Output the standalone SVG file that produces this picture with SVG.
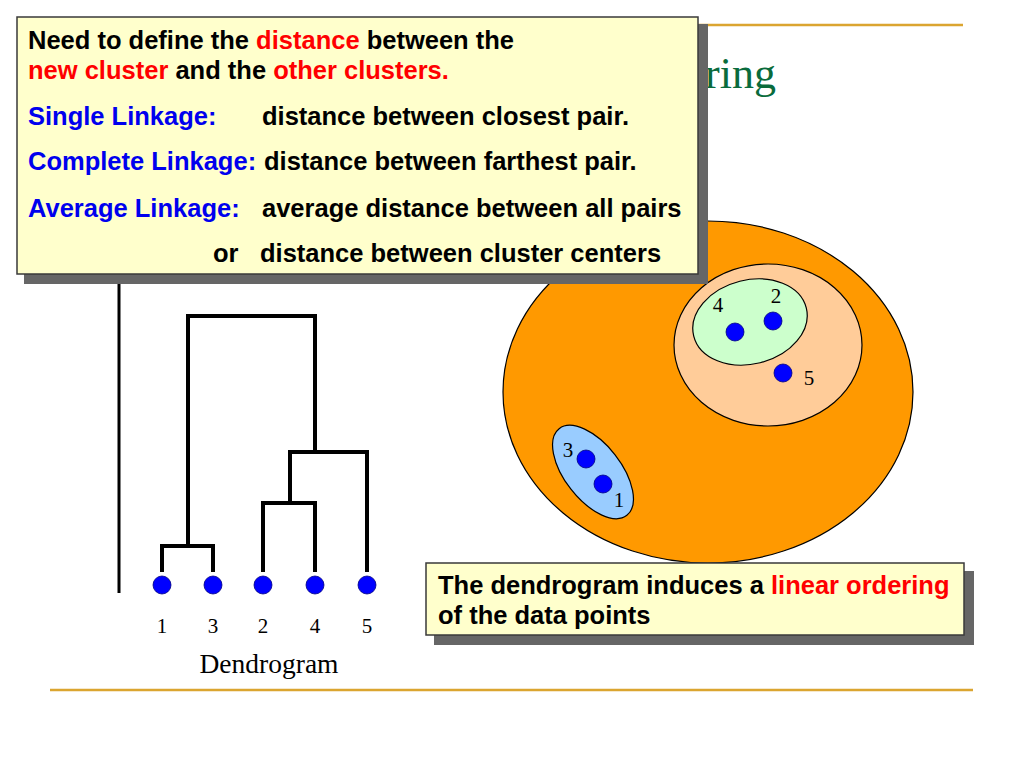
<svg xmlns="http://www.w3.org/2000/svg" width="1024" height="768" viewBox="0 0 1024 768">
<style>
.gold{stroke:#DBA530;stroke-width:2.5;fill:none}
.box{fill:#FFFFCC;stroke:#3a3a3a;stroke-width:1.5}
.shadow{fill:#666666}
.bt{font-family:"Liberation Sans",Arial,sans-serif;font-weight:bold;font-size:25.5px;fill:#000}
.red{fill:#FF0000}
.blue{fill:#0000EE}
.tree{stroke:#000;stroke-width:4;fill:none;stroke-linecap:square}
.dot{fill:#0000FF;stroke:#000080;stroke-width:0.8}
.num{font-family:"Liberation Serif","Times New Roman",serif;font-size:21px;fill:#000}
.cl{stroke:#000;stroke-width:1.2}
</style>
<rect width="1024" height="768" fill="#FFFFFF"/>
<g id="rules">
<line class="gold" x1="50" y1="25" x2="963" y2="25"/>
<line class="gold" x1="50" y1="690" x2="973" y2="690"/>
</g>
<text id="title" x="776" y="88" text-anchor="end" font-family="'Liberation Serif','Times New Roman',serif" font-size="44" fill="#0A6B3C">ring</text>
<g id="clusters">
<ellipse class="cl" cx="708" cy="392" rx="205" ry="171" fill="#FF9900"/>
<ellipse class="cl" cx="768" cy="345" rx="94" ry="81" fill="#FFCC99"/>
<ellipse class="cl" cx="750" cy="322" rx="58" ry="42" transform="rotate(-14 750 322)" fill="#CCFFCC"/>
<ellipse class="cl" cx="593" cy="472" rx="55" ry="28" transform="rotate(52 593 472)" fill="#99CCFF"/>
<circle class="dot" cx="735" cy="332" r="9"/>
<circle class="dot" cx="773" cy="321" r="9"/>
<circle class="dot" cx="783" cy="373" r="9"/>
<circle class="dot" cx="586" cy="459" r="9"/>
<circle class="dot" cx="603" cy="484" r="9"/>
<text class="num" x="718" y="312" text-anchor="middle">4</text>
<text class="num" x="776" y="303" text-anchor="middle">2</text>
<text class="num" x="809" y="385" text-anchor="middle">5</text>
<text class="num" x="568" y="457" text-anchor="middle">3</text>
<text class="num" x="619" y="507" text-anchor="middle">1</text>
</g>
<g id="dendrogram">
<line x1="119" y1="280" x2="119" y2="593" stroke="#000" stroke-width="3"/>
<g id="connectors">
<path class="tree" d="M162,570 V546 H213 V570"/>
<path class="tree" d="M263,570 V503 H315 V570"/>
<path class="tree" d="M290,503 V452 H367 V570"/>
<path class="tree" d="M188,546 V316 H315 V452"/>
</g>
<g id="leaves">
<circle class="dot" cx="162" cy="585" r="9"/>
<circle class="dot" cx="213" cy="585" r="9"/>
<circle class="dot" cx="263" cy="585" r="9"/>
<circle class="dot" cx="315" cy="585" r="9"/>
<circle class="dot" cx="367" cy="585" r="9"/>
<text class="num" x="162" y="633" text-anchor="middle">1</text>
<text class="num" x="213" y="633" text-anchor="middle">3</text>
<text class="num" x="263" y="633" text-anchor="middle">2</text>
<text class="num" x="315" y="633" text-anchor="middle">4</text>
<text class="num" x="367" y="633" text-anchor="middle">5</text>
</g>
<text x="269" y="673" text-anchor="middle" font-family="'Liberation Serif','Times New Roman',serif" font-size="27.5" fill="#000">Dendrogram</text>
</g>
<g id="linkage-box">
<rect class="shadow" x="24" y="24" width="684" height="260"/>
<rect class="box" x="17" y="17" width="681" height="257"/>
<text class="bt" x="28" y="49">Need to define the <tspan class="red">distance</tspan> between the</text>
<text class="bt" x="28" y="79"><tspan class="red">new cluster</tspan> and the <tspan class="red">other clusters.</tspan></text>
<text class="bt blue" x="28" y="125">Single Linkage:</text>
<text class="bt" x="262" y="125">distance between closest pair.</text>
<text class="bt blue" x="28" y="170">Complete Linkage:</text>
<text class="bt" x="264" y="170">distance between farthest pair.</text>
<text class="bt blue" x="28" y="217">Average Linkage:</text>
<text class="bt" x="262" y="217">average distance between all pairs</text>
<text class="bt" x="213" y="262">or</text>
<text class="bt" x="260" y="262">distance between cluster centers</text>
</g>
<g id="ordering-box">
<rect class="shadow" x="434" y="571" width="540" height="74"/>
<rect class="box" x="426" y="563" width="538" height="72"/>
<text class="bt" x="438" y="594">The dendrogram induces a <tspan class="red">linear ordering</tspan></text>
<text class="bt" x="438" y="624">of the data points</text>
</g>
</svg>
